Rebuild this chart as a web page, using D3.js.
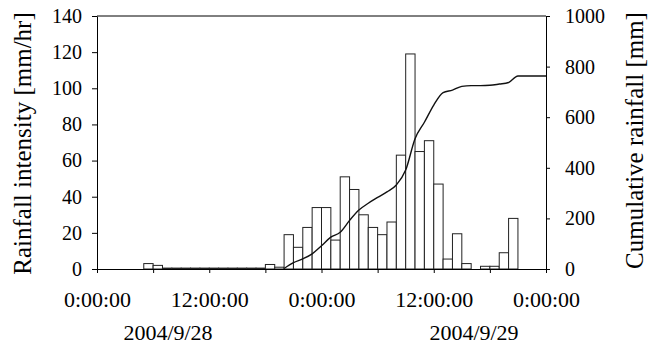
<!DOCTYPE html>
<html>
<head>
<meta charset="utf-8">
<script src="https://cdn.jsdelivr.net/npm/d3@7"></script>
<style>
  body { margin: 0; background: #fff; }
  svg, svg text { font-family: "Liberation Serif", "Times New Roman", serif; }
</style>
</head>
<body>
<div class="chart"></div>
<script>
// ======= RAINFALL HYETOGRAPH + CUMULATIVE ===========

// hourly rainfall intensity [mm/hr], hours counted from 2004/9/28 0:00
const barHours = [5, 6, 7, 8, 9, 10, 11, 12, 13, 14, 15, 16, 17, 18, 19,
  20, 21, 22, 23, 24, 25, 26, 27, 28, 29, 30, 31, 32, 33, 34, 35, 36, 37,
  38, 39, 40, 41, 42, 43, 44]
const intensity = [3, 2, 0.5, 0.5, 0.5, 0.5, 0.5, 0.5, 0.5, 0.5, 0.5, 0.5, 0.5, 2.5, 1,
  19, 12, 23, 34, 34, 16, 51, 44, 30, 23, 19, 26, 63, 119, 65, 71, 47, 5.5,
  19.5, 3, 0, 1.5, 1.5, 9, 28]

// cumulative rainfall [mm]
const cumHours = [20, 21, 22, 23, 24, 25, 26, 27, 28, 29, 30, 31, 32, 33, 34,
  35, 36, 37, 38, 39, 40, 41, 42, 43, 44, 45, 46, 47, 48]
const cumulative = [2, 25, 40, 60, 92, 126, 145, 192, 233, 260, 283, 305, 332, 391, 515,
  580, 648, 697, 707, 722, 725, 725, 726, 731, 737, 763, 763, 763, 763]

const leftTicks = [0, 20, 40, 60, 80, 100, 120, 140]
const rightTicks = [0, 200, 400, 600, 800, 1000]
const dateLabels = ['2004/9/28', '2004/9/29']

const start = Date.UTC(2004, 8, 28, 0)
const hour = h => new Date(start + h * 3600 * 1000)

const margin = { top: 16, right: 114, bottom: 76, left: 97 }
const width = 660 - margin.left - margin.right
const height = 345 - margin.top - margin.bottom
const serif = '"Liberation Serif", "Times New Roman", serif'

const svg = d3.select('.chart')
  .append('svg')
    .attr('width', 660)
    .attr('height', 345)
  .append('g')
    .attr('transform', `translate(${margin.left}, ${margin.top})`)

const xScale = d3.scaleUtc()
  .domain([hour(0), hour(48)])
  .range([0, width])

const yScale = d3.scaleLinear()
  .domain([0, 140])
  .range([height, 0])

const y2Scale = d3.scaleLinear()
  .domain([0, 1000])
  .range([height, 0])

// bars
svg.selectAll('rect.bar')
  .data(barHours.map((h, i) => ({ h, v: intensity[i] })))
  .enter()
  .append('rect')
    .attr('class', 'bar')
    .attr('x', d => xScale(hour(d.h)))
    .attr('y', d => yScale(d.v))
    .attr('width', d => xScale(hour(d.h + 1)) - xScale(hour(d.h)))
    .attr('height', d => height - yScale(d.v))
    .attr('fill', '#fff')
    .attr('stroke', '#222')
    .attr('stroke-width', 1)

// cumulative line
const line = d3.line()
  .x(d => xScale(hour(d.h)))
  .y(d => y2Scale(d.v))
  .curve(d3.curveMonotoneX)

svg.append('path')
  .datum(cumHours.map((h, i) => ({ h, v: cumulative[i] })))
  .attr('d', line)
  .attr('fill', 'none')
  .attr('stroke', '#111')
  .attr('stroke-width', 1.4)

// axes
const yAxis = d3.axisLeft(yScale)
  .tickValues(leftTicks)
  .tickSizeInner(5)
  .tickSizeOuter(0)
  .tickPadding(10)
svg.append('g')
  .call(yAxis)
  .attr('font-family', serif)
  .attr('font-size', 20)

const y2Axis = d3.axisRight(y2Scale)
  .tickValues(rightTicks)
  .tickFormat(d3.format('d'))
  .tickSizeInner(4)
  .tickSizeOuter(0)
  .tickPadding(15)
svg.append('g')
  .attr('transform', `translate(${width}, 0)`)
  .call(y2Axis)
  .attr('font-family', serif)
  .attr('font-size', 20)

const xAxis = d3.axisBottom(xScale)
  .ticks(d3.utcHour.every(6))
  .tickFormat(d => d.getUTCHours() % 12 === 0 ? d3.utcFormat('%-H:%M:%S')(d) : '')
  .tickSizeInner(4)
  .tickSizeOuter(0)
  .tickPadding(18)
svg.append('g')
  .attr('transform', `translate(0, ${height})`)
  .call(xAxis)
  .attr('font-family', serif)
  .attr('font-size', 22)

svg.selectAll('.domain').attr('stroke', '#000')
svg.selectAll('.tick line').attr('stroke', '#000')
svg.selectAll('.tick text').attr('fill', '#000')

// top frame line
svg.append('line')
  .attr('x1', 0).attr('x2', width)
  .attr('y1', 0).attr('y2', 0)
  .attr('stroke', '#000')

// date labels under the time axis
svg.selectAll('text.date')
  .data(dateLabels)
  .enter()
  .append('text')
    .attr('class', 'date')
    .attr('x', (d, i) => [71, 377][i])
    .attr('y', height + 71)
    .attr('text-anchor', 'middle')
    .style('font-size', '22px')
    .text(d => d)

// axis titles
svg.append('text')
  .attr('transform', `translate(${31 - margin.left}, ${height / 2 + 1}) rotate(-90)`)
  .attr('text-anchor', 'middle')
  .style('font-size', '25px')
  .text('Rainfall intensity [mm/hr]')

svg.append('text')
  .attr('transform', `translate(${643 - margin.left}, ${height / 2 - 2}) rotate(-90)`)
  .attr('text-anchor', 'middle')
  .style('font-size', '25px')
  .text('Cumulative rainfall [mm]')
</script>
</body>
</html>
